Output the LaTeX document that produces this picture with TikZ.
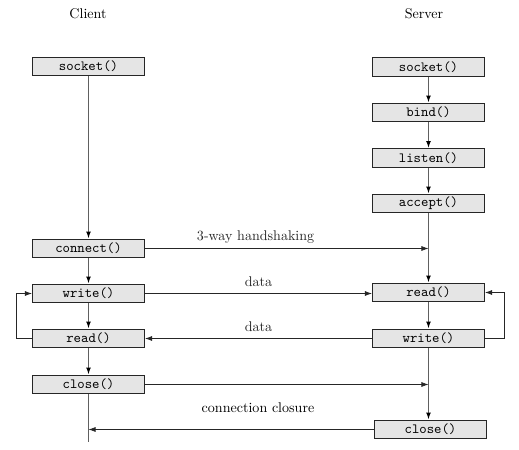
\documentclass[tikz,border=0pt]{standalone}
\usepackage{amsmath}
\usepackage{tikz}
\usetikzlibrary{arrows.meta}

\tikzset{
    call/.style={draw=black!85, thick, fill=gray!20, minimum width=2.8cm, minimum height=0.47cm, inner sep=0pt, font=\ttfamily},
    flow/.style={gray!75!black, line width=0.9pt, -{Latex[length=5pt, width=3.5pt, color=black]}},
    msg/.style={black!85, -{Latex[length=5pt, width=3.5pt]}}
}

\begin{document}
\begin{tikzpicture}[x=0.25mm, y=-0.25mm]
    \useasboundingbox (0,0) rectangle (519,450);

    % Titles
    \node (clientTitle) at (88,14) {Client};
    \node (serverTitle) at (424,14) {Server};

    % Client calls
    \node[call] (csocket) at (88.5,66.5) {socket()};
    \node[call] (cconnect) at (88.5,248.5) {connect()};
    \node[call] (cwrite) at (88.5,293.5) {write()};
    \node[call] (cread) at (88.5,338.5) {read()};
    \node[call] (cclose) at (88.5,384.5) {close()};
    \coordinate (cEnd) at (88.5,442);

    % Server calls
    \node[call] (ssocket) at (428.5,67) {socket()};
    \node[call] (sbind) at (428.5,112.5) {bind()};
    \node[call] (slisten) at (428.5,158) {listen()};
    \node[call] (saccept) at (428.5,203.5) {accept()};
    \node[call] (sread) at (428.5,292.5) {read()};
    \node[call] (swrite) at (428.5,338.5) {write()};
    \node[call] (sclose) at (430.5,429.5) {close()};

    % Client flow
    \draw[flow] (csocket) -- (cconnect);
    \draw[flow] (cconnect) -- (cwrite);
    \draw[flow] (cwrite) -- (cread);
    \draw[flow] (cread) -- (cclose);
    \draw[gray!75!black, line width=0.9pt] (cclose) -- (cEnd);
    \draw[msg] (cread.west) -- ++(-16,0) |- (cwrite.west);

    % Server flow
    \draw[flow] (ssocket) -- (sbind);
    \draw[flow] (sbind) -- (slisten);
    \draw[flow] (slisten) -- (saccept);
    \draw[flow] (saccept) -- (sread);
    \draw[flow] (sread) -- (swrite);
    \draw[flow] (swrite.south) -- (swrite.south |- sclose.north);
    \draw[msg] (swrite.east) -- ++(19,0) |- (sread.east);

    % Messages
    \draw[msg] (cconnect.east) -- (cconnect -| saccept.south) node[pos=0.39, above] {3-way handshaking};
    \draw[msg] (cwrite.east) -- (sread.west |- cwrite) node[midway, above, yshift=1pt] {data};
    \draw[msg] (swrite.west) -- (cread.east |- swrite) node[midway, above, yshift=1pt] {data};
    \draw[msg] (cclose.east) -- (cclose -| swrite.south);
    \draw[msg] (sclose.west) -- (sclose -| cEnd);
    \node (closure) at (258,408) {connection closure};
\end{tikzpicture}
\end{document}
